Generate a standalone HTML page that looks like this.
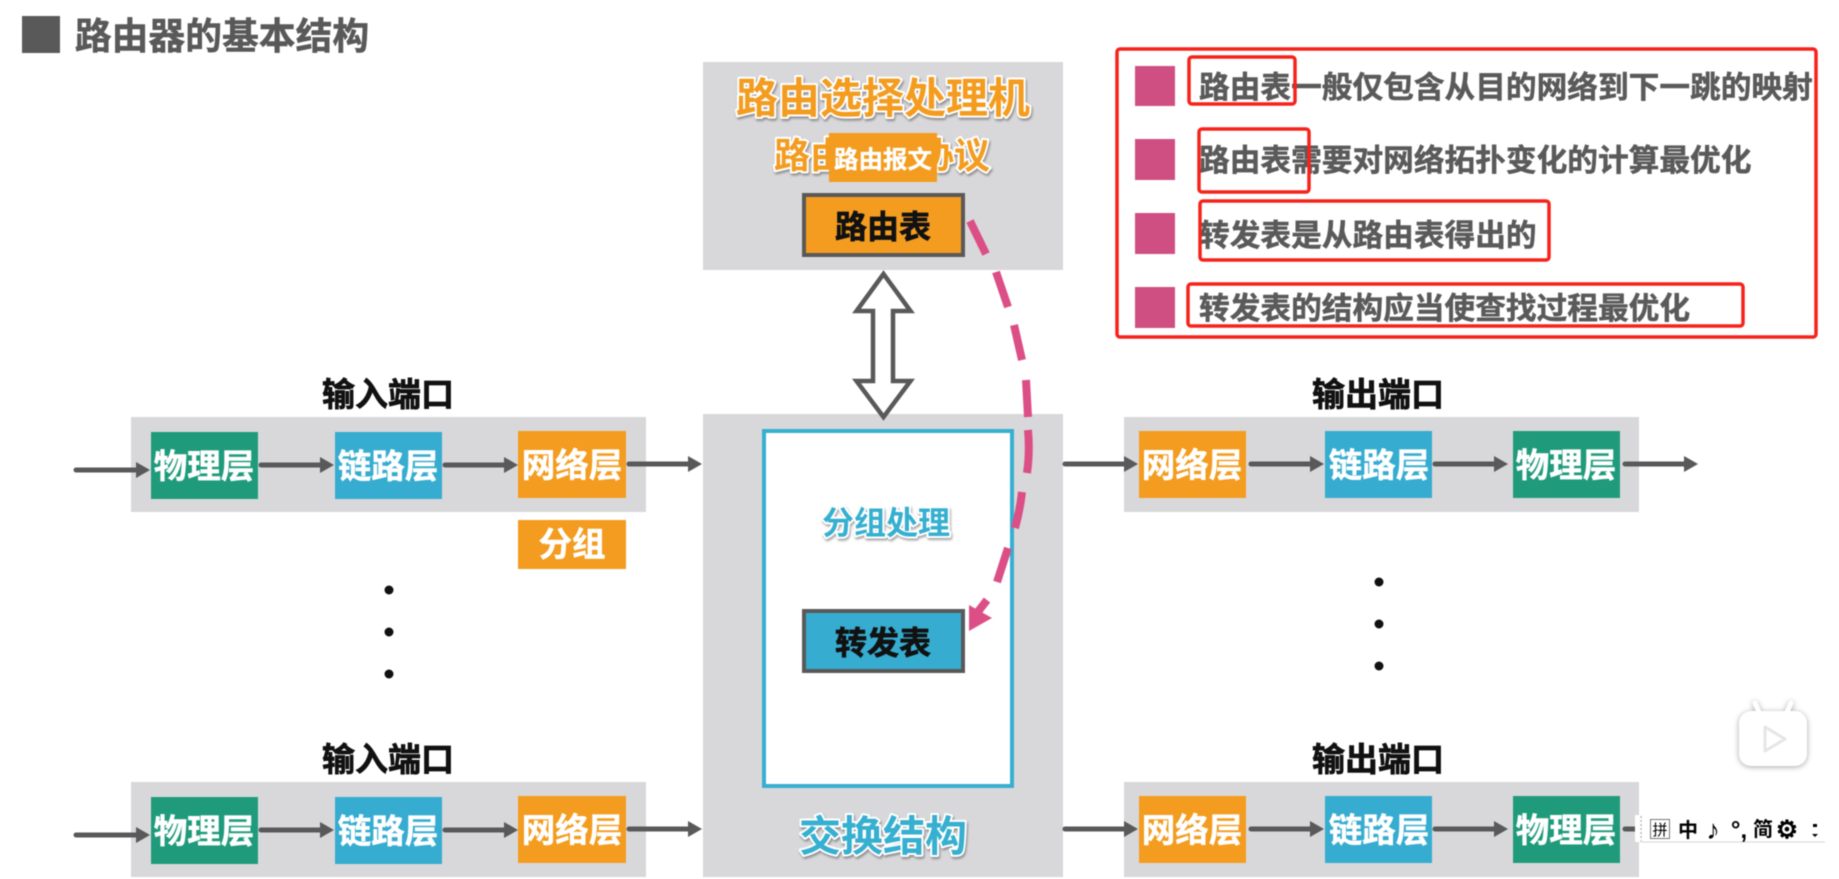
<!DOCTYPE html>
<html lang="zh-CN">
<head>
<meta charset="utf-8">
<title>路由器的基本结构</title>
<style>
html,body{margin:0;padding:0;background:#fff;width:1839px;height:879px;overflow:hidden}
svg{display:block;filter:blur(.5px)}
text{font-family:"Liberation Sans","Noto Sans CJK SC",sans-serif;font-weight:700;text-anchor:middle}
.layer{font-size:33.5px;fill:#fff;stroke:#fff;stroke-width:.5px}
.port{font-size:33px;fill:#111;stroke:#111;stroke-width:.7px}
.blk{fill:#111;stroke:#111;stroke-width:.7px}
.item{font-size:30.7px;fill:#5a5a5a;stroke:#5a5a5a;stroke-width:.5px;text-anchor:start}
.out{paint-order:stroke;stroke:#fff;stroke-width:4px;stroke-linejoin:round;filter:drop-shadow(1px 2px 1px rgba(0,0,0,.35))}
.ime{font-weight:700;fill:#000}
</style>
</head>
<body>
<svg width="1839" height="879" viewBox="0 0 1839 879" xmlns="http://www.w3.org/2000/svg">
<defs>
<marker id="h" markerUnits="userSpaceOnUse" markerWidth="14" markerHeight="16" refX="0" refY="8" orient="auto"><path d="M0 0L14 8L0 16Z" fill="#595959"/></marker>
</defs>
<rect width="1839" height="879" fill="#fff"/>

<!-- title -->
<rect x="22" y="16" width="38" height="37" fill="#595959"/>
<text x="222" y="49" font-size="36.8" fill="#595959" stroke="#595959" stroke-width=".5">路由器的基本结构</text>

<!-- routing processor -->
<rect x="703" y="62" width="360" height="208" fill="#d8d8da"/>
<text x="883" y="113" font-size="42" fill="#f39c1f" class="out">路由选择处理机</text>
<text x="882" y="168" font-size="36" fill="#f39c1f" class="out">路由选择协议</text>
<rect x="829" y="133" width="108" height="49" fill="#f39c1f"/>
<text x="883" y="168" font-size="24.5" fill="#fff" stroke="#fff" stroke-width=".3">路由报文</text>
<rect x="804" y="195" width="159" height="60" fill="#f39c1f" stroke="#595959" stroke-width="4"/>
<text x="883" y="238" font-size="32" class="blk">路由表</text>

<!-- switch fabric -->
<rect x="703" y="414" width="360" height="463" fill="#d8d8da"/>
<rect x="764" y="431" width="248" height="355" fill="#fff" stroke="#36afd0" stroke-width="4"/>
<text x="886" y="534" font-size="32" fill="#36afd0" class="out">分组处理</text>
<rect x="804" y="611" width="159" height="60" fill="#36acd0" stroke="#595959" stroke-width="4"/>
<text x="883" y="654" font-size="32" class="blk">转发表</text>
<text x="883" y="851" font-size="42" fill="#36afd0" class="out">交换结构</text>

<!-- double arrow -->
<path d="M883.5 274L910.5 311H893V381H910.5L883.5 417L856.5 381H873V311H856.5Z" fill="#fff" stroke="#595959" stroke-width="4.5" stroke-linejoin="miter"/>

<!-- input port top -->
<text x="388" y="406" class="port">输入端口</text>
<rect x="131" y="417" width="515" height="95" fill="#d8d8da"/>
<rect x="151" y="432" width="107" height="67" fill="#1f9b7b"/>
<rect x="335" y="432" width="107" height="67" fill="#36acd0"/>
<rect x="518" y="431" width="108" height="67" fill="#f39c1f"/>
<text x="204" y="478" class="layer">物理层</text>
<text x="388" y="478" class="layer">链路层</text>
<text x="572" y="477" class="layer">网络层</text>
<rect x="518" y="520" width="108" height="49" fill="#f39c1f"/>
<text x="572" y="556" class="layer">分组</text>
<g stroke="#595959" stroke-width="5" stroke-linecap="round">
<line x1="76" y1="470" x2="136" y2="470" marker-end="url(#h)"/>
<line x1="261" y1="465" x2="320" y2="465" marker-end="url(#h)"/>
<line x1="445" y1="465" x2="504" y2="465" marker-end="url(#h)"/>
<line x1="629" y1="464" x2="688" y2="464" marker-end="url(#h)"/>
</g>
<g fill="#111"><circle cx="389" cy="590" r="4.5"/><circle cx="389" cy="632" r="4.5"/><circle cx="389" cy="674" r="4.5"/></g>

<!-- input port bottom -->
<text x="388" y="771" class="port">输入端口</text>
<rect x="131" y="782" width="515" height="95" fill="#d8d8da"/>
<rect x="151" y="797" width="107" height="67" fill="#1f9b7b"/>
<rect x="335" y="797" width="107" height="67" fill="#36acd0"/>
<rect x="518" y="796" width="108" height="67" fill="#f39c1f"/>
<text x="204" y="843" class="layer">物理层</text>
<text x="388" y="843" class="layer">链路层</text>
<text x="572" y="842" class="layer">网络层</text>
<g stroke="#595959" stroke-width="5" stroke-linecap="round">
<line x1="76" y1="835" x2="136" y2="835" marker-end="url(#h)"/>
<line x1="261" y1="830" x2="320" y2="830" marker-end="url(#h)"/>
<line x1="445" y1="830" x2="504" y2="830" marker-end="url(#h)"/>
<line x1="629" y1="829" x2="688" y2="829" marker-end="url(#h)"/>
</g>

<!-- output port top -->
<text x="1378" y="406" class="port">输出端口</text>
<rect x="1124" y="417" width="515" height="95" fill="#d8d8da"/>
<rect x="1139" y="431" width="107" height="67" fill="#f39c1f"/>
<rect x="1325" y="431" width="107" height="67" fill="#36acd0"/>
<rect x="1513" y="431" width="107" height="67" fill="#1f9b7b"/>
<text x="1192" y="477" class="layer">网络层</text>
<text x="1379" y="477" class="layer">链路层</text>
<text x="1566" y="477" class="layer">物理层</text>
<g stroke="#595959" stroke-width="5" stroke-linecap="round">
<line x1="1065" y1="464" x2="1124" y2="464" marker-end="url(#h)"/>
<line x1="1251" y1="464" x2="1310" y2="464" marker-end="url(#h)"/>
<line x1="1435" y1="464" x2="1494" y2="464" marker-end="url(#h)"/>
<line x1="1625" y1="464" x2="1684" y2="464" marker-end="url(#h)"/>
</g>
<g fill="#111"><circle cx="1379" cy="582" r="4.5"/><circle cx="1379" cy="624" r="4.5"/><circle cx="1379" cy="666" r="4.5"/></g>

<!-- output port bottom -->
<text x="1378" y="771" class="port">输出端口</text>
<rect x="1124" y="782" width="515" height="95" fill="#d8d8da"/>
<rect x="1139" y="796" width="107" height="67" fill="#f39c1f"/>
<rect x="1325" y="796" width="107" height="67" fill="#36acd0"/>
<rect x="1513" y="796" width="107" height="67" fill="#1f9b7b"/>
<text x="1192" y="842" class="layer">网络层</text>
<text x="1379" y="842" class="layer">链路层</text>
<text x="1566" y="842" class="layer">物理层</text>
<g stroke="#595959" stroke-width="5" stroke-linecap="round">
<line x1="1065" y1="829" x2="1124" y2="829" marker-end="url(#h)"/>
<line x1="1251" y1="829" x2="1310" y2="829" marker-end="url(#h)"/>
<line x1="1435" y1="829" x2="1494" y2="829" marker-end="url(#h)"/>
<line x1="1625" y1="829" x2="1640" y2="829"/>
</g>

<!-- pink dashed arrow: each dash placed individually -->
<path d="M970 221L986 254M996 272L1008 307M1014 325L1022 360M1026 380L1028 417M1028 430Q1030 452 1027 473M1022 492Q1020 510 1015 528M1008 548L997 582M987 600L977 613" fill="none" stroke="#db4f86" stroke-width="8"/>
<path d="M969 631L969 605L992 618Z" fill="#db4f86"/>

<!-- note panel -->
<rect x="1117" y="49" width="699" height="288" fill="none" stroke="#f5231c" stroke-width="3.5" rx="3"/>
<g fill="#cf4f82">
<rect x="1135" y="66" width="40" height="40"/>
<rect x="1135" y="139" width="40" height="41"/>
<rect x="1135" y="213" width="40" height="41"/>
<rect x="1135" y="287" width="40" height="41"/>
</g>
<text x="1199" y="98" class="item">路由表一般仅包含从目的网络到下一跳的映射</text>
<text x="1199" y="171" class="item">路由表需要对网络拓扑变化的计算最优化</text>
<text x="1199" y="246" class="item">转发表是从路由表得出的</text>
<text x="1199" y="319" class="item">转发表的结构应当使查找过程最优化</text>
<g fill="none" stroke="#f5231c" stroke-width="3.5">
<rect x="1189" y="57" width="106" height="47" rx="3"/>
<rect x="1199" y="129" width="110" height="63" rx="3"/>
<rect x="1200" y="201" width="349" height="59" rx="3"/>
<rect x="1188" y="284" width="555" height="42" rx="3"/>
</g>

<!-- watermark icon -->
<g style="filter:drop-shadow(0 1px 3px rgba(0,0,0,.35))">
<path d="M1759 712L1755 703M1787 712L1791 703" stroke="#fff" stroke-width="5" stroke-linecap="round"/>
<rect x="1739" y="711" width="68" height="55" rx="12" fill="#fff"/>
</g>
<path d="M1765 727L1785 739L1765 751Z" fill="#fff" stroke="#e6e6e6" stroke-width="3" stroke-linejoin="round"/>

<!-- IME bar -->
<rect x="1635" y="815" width="190" height="27" fill="#fff"/>
<line x1="1640" y1="842" x2="1825" y2="842" stroke="#d5d5d5" stroke-width="1"/>
<line x1="1641" y1="816" x2="1641" y2="841" stroke="#bbb" stroke-width="1.5" stroke-dasharray="2 2"/>
<rect x="1650.5" y="819.5" width="19" height="19" fill="none" stroke="#777" stroke-width="1"/>
<text x="1660" y="835" font-size="15" class="ime" style="font-weight:400">拼</text>
<text x="1688" y="837" font-size="20" class="ime">中</text>
<text x="1713" y="839" font-size="27" class="ime">♪</text>
<text x="1739" y="838" font-size="24" class="ime">°,</text>
<text x="1763" y="836" font-size="20" class="ime">简</text>
<text x="1787" y="838" font-size="25" class="ime">⚙</text>
<rect x="1813" y="824" width="4" height="3" fill="#000"/>
<path d="M1812 834H1818L1815 837Z" fill="#000"/>
</svg>
</body>
</html>
